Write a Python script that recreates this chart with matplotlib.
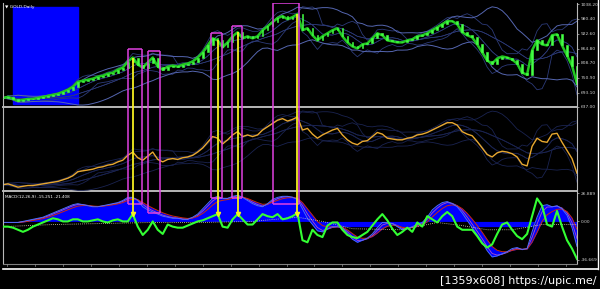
import numpy as np
import pandas as pd
import matplotlib
matplotlib.use('Agg')
import matplotlib.pyplot as plt
from matplotlib.lines import Line2D
from matplotlib.patches import Rectangle
from matplotlib.transforms import blended_transform_factory

# closing prices, one sample every few bars
close = [672.4, 676.4, 668.5, 660.6, 664.6, 668.5, 668.5, 672.4, 676.4, 680.3,
         684.2, 688.2, 696.0, 703.9, 715.7, 735.4, 739.3, 743.2, 747.2, 755.0,
         758.9, 766.8, 770.8, 782.4, 790.4, 814.0, 829.8, 802.2, 790.4, 810.1,
         829.8, 794.3, 782.4, 794.3, 798.3, 794.3, 802.2, 806.2, 814.0, 829.8,
         849.4, 876.9, 904.5, 896.6, 869.1, 888.7, 912.3, 928.1, 904.5, 912.3,
         904.5, 912.3, 935.9, 951.7, 967.4, 983.1, 991.0, 979.2, 987.1, 998.9,
         935.9, 943.8, 916.3, 896.6, 912.3, 924.1, 935.9, 943.8, 912.3, 888.7,
         873.0, 865.2, 880.9, 884.8, 904.5, 924.1, 916.3, 896.6, 892.7, 888.7,
         888.7, 896.6, 900.5, 912.3, 916.3, 924.1, 935.9, 947.7, 959.5, 971.3,
         971.3, 959.5, 928.1, 916.3, 908.4, 880.9, 849.4, 818.0, 806.2, 825.8,
         833.7, 829.8, 821.9, 806.2, 770.8, 762.9, 857.3, 896.6, 880.9, 876.9,
         916.3, 920.2, 876.9, 837.6, 798.3, 727.5]

# MACD main line at the same samples
macd_main = [-1, -1, -1, -1, 0, 1, 2, 3, 4, 6,
             8, 10, 12, 14, 16, 17, 16, 15, 14, 14,
             15, 16, 17, 18, 20, 23, 23, 20, 14, 11,
             9, 7, 5, 4, 3, 3, 2, 2, 4, 7,
             12, 17, 22, 24, 22, 22, 24, 25, 23, 20,
             17, 15, 14, 17, 21, 23, 24, 24, 23, 21,
             12, 3, -3, -9, -10, -7, -5, -5, -6, -12,
             -17, -20, -18, -16, -12, -6, -1, -1, -2, -5,
             -8, -7, -5, -3, -1, 4, 11, 15, 18, 19,
             17, 14, 8, 1, -6, -13, -20, -28, -34, -33,
             -31, -29, -26, -25, -27, -26, -10, 4, 15, 16,
             14, 15, 12, 6, -6, -24]

# fast green oscillator in the MACD window
osc_line = [-5, -5, -6, -8, -10, -8, -5, -3, -1, 1,
            3, 2, 0, 0, 2, 2, 0, 0, 1, 2,
            0, -1, 1, 2, 0, 0, 7, -5, -13, -8,
            0, -8, -12, -3, -5, -6, -6, -4, -2, 0,
            1, 3, 5, 7, -5, -6, 2, 7, 2, -3,
            -3, 2, 7, 5, 4, 7, 2, 3, 5, 8,
            -18, -20, -8, -13, -15, -4, -1, -1, -8, -13,
            -15, -16, -13, -10, -4, 2, 7, 1, -7, -13,
            -10, -6, -10, -1, -5, 5, 2, -1, 5, 9,
            5, -5, -8, -8, -8, -14, -21, -25, -22, -12,
            -3, -1, -8, -14, -17, -12, 5, 22, 15, -3,
            -5, 10, -5, -18, -26, -36]

# slow dotted line (sample index, value)
dot_idx = [0, 10, 20, 30, 40, 50, 59, 64, 70, 80, 87, 92, 97, 102, 108, 115]
dot_val = [-5, -3, -2, -1, -1, 0, 4, 0, -7, -8, -1, -4, -8, -8, -3, -3]

price_ticks = [1038.20, 980.40, 922.60, 864.80, 808.70, 750.90, 693.10, 637.00]
macd_ticks = [26.889, 0.00, -36.669]

# drawn objects on the chart
zone_left, zone_right = 2, 15
zone_low, zone_high = 648.8, 1026.4

box_left = [25.0, 29.0, 41.6, 45.8, 54.0]
box_right = [27.8, 31.4, 43.8, 47.8, 59.4]
box_top = [861.2, 853.3, 924.1, 951.7, 1041.0]
box_bottom = [17, 8, 22, 22, 17]

signal_bars = [26, 43, 47, 59]
signal_level = 7

W, H = 600, 289
BLUE_BAND = '#5566b0'
DARK_BAND = '#2c3a78'
MAGENTA = '#e040e0'
YELLOW = '#f4f020'
GREY = '#b8b8b8'


def fig_rect(x0, y0, x1, y1):
    # pixel box (top-left origin) -> figure fraction
    return [x0 / W, 1 - y1 / H, (x1 - x0) / W, (y1 - y0) / H]


fig = plt.figure(figsize=(6, 2.89), dpi=100, facecolor='black')
ax1 = fig.add_axes(fig_rect(3, 3, 577, 107))
ax2 = fig.add_axes(fig_rect(3, 107, 577, 191))
ax3 = fig.add_axes(fig_rect(3, 191, 577, 263))

n = len(close)
x = np.arange(n)
s = pd.Series(close)

for ax in (ax1, ax2, ax3):
    ax.set_facecolor('none')
    ax.set_xlim(0, n - 1)
    for side in ('top', 'bottom'):
        ax.spines[side].set_visible(False)
    ax.spines['left'].set_color(GREY)
    ax.spines['right'].set_color(GREY)
    ax.spines['left'].set_linewidth(0.8)
    ax.spines['right'].set_linewidth(0.8)
    ax.set_xticks([])
    ax.tick_params(axis='y', colors=GREY, length=1.5, width=0.5, pad=1,
                   labelsize=3.2, labelcolor='#d0d0d0', left=False, right=True,
                   labelleft=False, labelright=True)

ax1.set_ylim(637.0, 1042.1)
ax2.set_ylim(642, 1047)
ax3.set_ylim(-39.8, 29.1)

# bands around price (trailing, like the terminal draws them)
bands = []
for win, col, lw in [(5, DARK_BAND, 0.6), (12, BLUE_BAND, 0.7)]:
    mid = s.rolling(win, min_periods=1).mean()
    dev = s.rolling(win, min_periods=1).std().fillna(0)
    bands.append((mid - 2 * dev, mid + 2 * dev, col, lw))
    bands.append((mid, mid, DARK_BAND, 0.5))

# top window: blue zone, bands, candles
ax1.add_patch(Rectangle((zone_left, zone_low), zone_right - zone_left,
                        zone_high - zone_low, color='#0000ff', zorder=0))
for lo, hi, col, lw in bands:
    ax1.plot(x, lo, color=col, lw=lw, zorder=1)
    ax1.plot(x, hi, color=col, lw=lw, zorder=1)
opens = s.shift(1).fillna(s.iloc[0]).values
closes = s.values
ax1.plot(x, closes, color='#22c822', lw=1.8, zorder=2)
ax1.bar(x, closes - opens, bottom=opens, width=0.35, color='#44ff44',
        edgecolor='#44ff44', linewidth=0.4, zorder=3)
ax1.text(0.004, 0.985, '\u25bc GOLD,Daily', transform=ax1.transAxes,
         color='white', fontsize=3.2, va='top', ha='left')

# middle window: same close as a line with faint bands
for lo, hi, col, lw in bands:
    ax2.plot(x, lo, color='#1a2350', lw=0.6, zorder=1)
    ax2.plot(x, hi, color='#1a2350', lw=0.6, zorder=1)
ax2.plot(x, closes, color='#e8a830', lw=1.0, zorder=2)

# MACD window
macd = pd.Series(macd_main, dtype=float)
signal = macd.ewm(span=4).mean()
slow = macd.ewm(span=2).mean()
ax3.fill_between(x, 0, np.maximum(macd, -5), color='#0000ff', lw=0, zorder=1)
ax3.fill_between(x, macd, signal, color='#0000ff', lw=0, zorder=1)
ax3.plot(x, slow, color='#b050c0', lw=0.6, zorder=2)
ax3.plot(x, signal, color='#cc2a10', lw=0.7, zorder=2)
ax3.plot(x, macd, color='#4a6cff', lw=0.7, zorder=2)
ax3.plot(dot_idx, dot_val, color='#d8d8b0', lw=0.6, ls=(0, (1, 1.5)), zorder=2)
ax3.plot(x, osc_line, color='#33ff33', lw=1.5, zorder=3)
ax3.text(0.004, 0.95, 'MACD(12,26,9) -15.251 -21.408', transform=ax3.transAxes,
         color='white', fontsize=3.0, va='top', ha='left')

ax1.set_yticks(price_ticks)
ax1.set_yticklabels(['%.2f' % v for v in price_ticks])
ax2.set_yticks([])
ax3.set_yticks(macd_ticks)
ax3.set_yticklabels(['26.889', '0.00', '-36.669'])

# magenta boxes crossing the three windows
for l, r, t, b in zip(box_left, box_right, box_top, box_bottom):
    ax1.vlines([l, r], 637.0, t, color=MAGENTA, lw=1.1, zorder=4)
    ax1.hlines(t, l, r, color=MAGENTA, lw=1.1, zorder=4)
    ax2.vlines([l, r], 642, 1047, color=MAGENTA, lw=1.1, zorder=4)
    ax3.vlines([l, r], b, 29.1, color=MAGENTA, lw=1.1, zorder=4)
    ax3.hlines(b, l, r, color=MAGENTA, lw=1.1, zorder=4)

# yellow signal lines down to the oscillator
for bar in signal_bars:
    ax1.vlines(bar, 637.0, close[bar], color=YELLOW, lw=1.3, zorder=5)
    ax2.vlines(bar, 642, 1047, color=YELLOW, lw=1.3, zorder=5)
    ax3.vlines(bar, signal_level, 29.1, color=YELLOW, lw=1.3, zorder=5)
    ax3.plot(bar, signal_level, marker='v', color=YELLOW, ms=3, zorder=6)

# window separators, time strip and frame
def hline_px(y, x0, x1, color, lw):
    fig.add_artist(Line2D([x0 / W, x1 / W], [1 - y / H, 1 - y / H],
                          color=color, lw=lw, zorder=-1))

hline_px(107, 3, 577, GREY, 1.4)
hline_px(191, 3, 577, GREY, 1.4)
hline_px(263.5, 3, 577, '#808080', 0.8)
hline_px(268.5, 3, 598, 'white', 1.2)
fig.add_artist(Line2D([598 / W, 598 / W], [1 - 268.5 / H, 1.0],
                      color='white', lw=1.0))

# time axis ticks
trans = blended_transform_factory(ax3.transData, fig.transFigure)
for t in np.arange(0.8, n - 1, 5.6):
    fig.add_artist(Line2D([t, t], [1 - 263.5 / H, 1 - 266 / H], transform=trans,
                          color='#909090', lw=0.5))

fig.text(0.995, 0.012, '[1359x608] https://upic.me/', color='white',
         fontsize=8, ha='right', va='bottom')

fig.savefig('out.png', dpi=100, facecolor='black')
